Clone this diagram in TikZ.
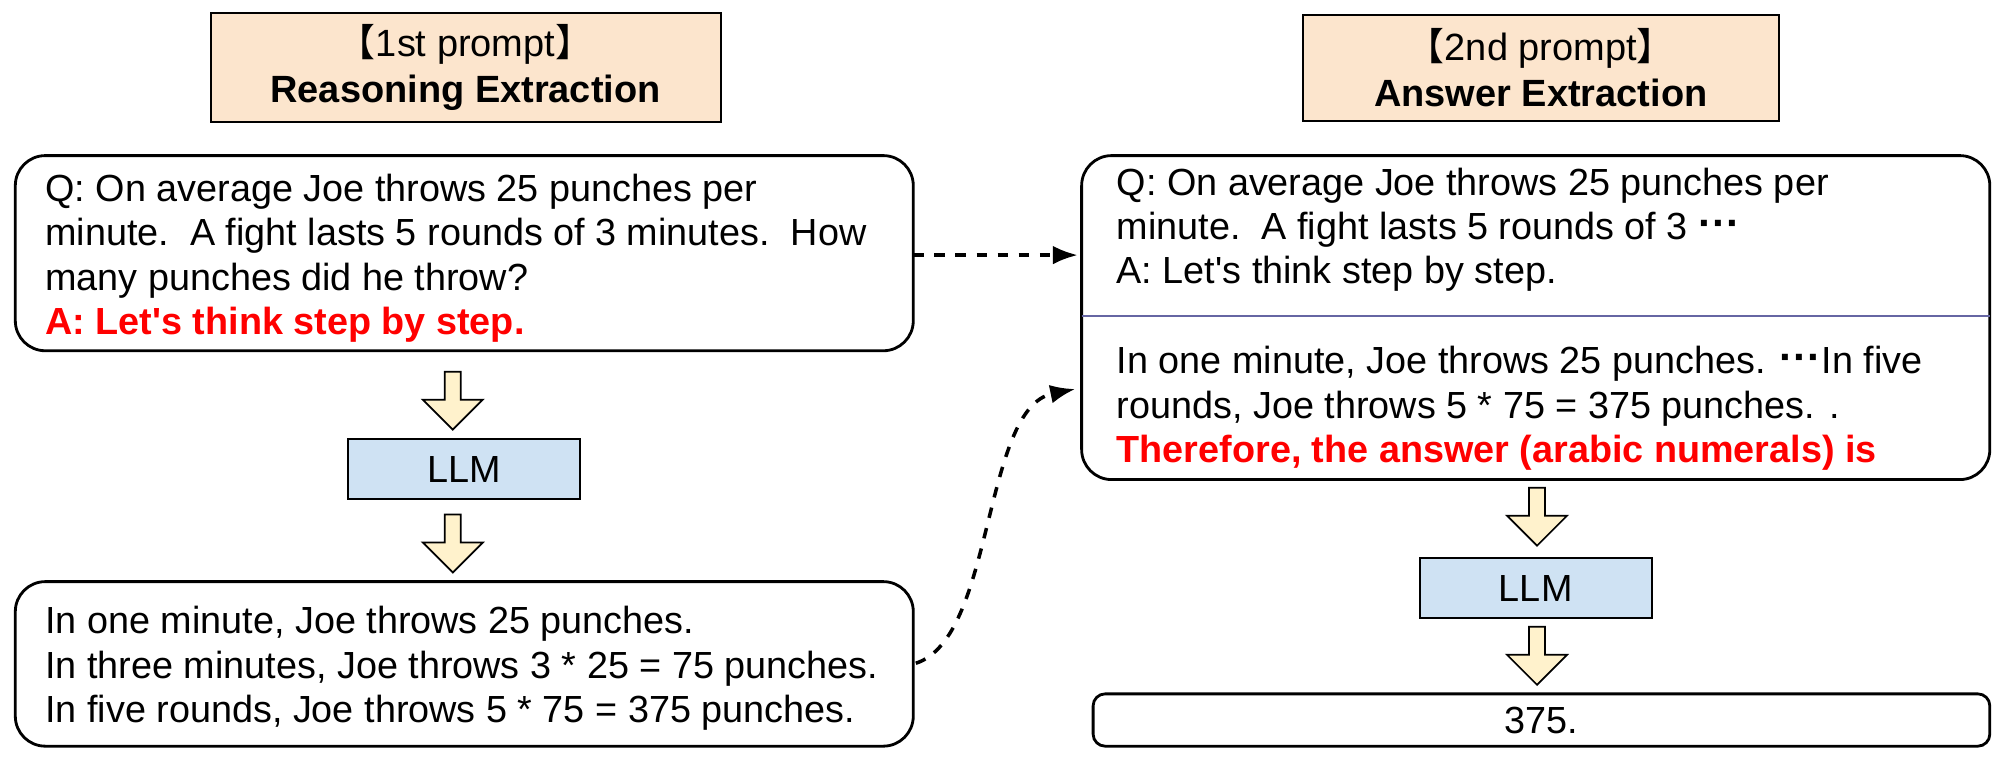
\documentclass[tikz,border=0pt]{standalone}
\usepackage{fontspec}
\setmainfont{Liberation Sans}
\newfontfamily\cjk{Noto Sans CJK JP}
\usetikzlibrary{shapes.arrows,arrows.meta}
\definecolor{llmblue}{HTML}{CFE2F3}
\definecolor{hdrorange}{HTML}{FCE5CD}
\definecolor{arryel}{HTML}{FFF2CC}
\newcommand{\mydots}{\raisebox{0.1ex}{\textbf{\large ···}}}
\begin{document}
\begin{tikzpicture}[x=0.012755cm,y=-0.012755cm,
 txt/.style={anchor=north west,inner sep=0,align=left,font=\fontsize{10.75}{12.6}\selectfont},
 rbox/.style={draw,line width=0.8pt,rounded corners=0.3cm},
 hdr/.style={draw,fill=hdrorange,line width=0.6pt,align=center,font=\fontsize{10.8}{13}\selectfont},
 llm/.style={draw,fill=llmblue,line width=0.6pt,minimum width=2.32cm,minimum height=0.6cm,font=\fontsize{10.75}{12}\selectfont},
 darr/.style={single arrow,draw,fill=arryel,shape border rotate=270,minimum height=0.58cm,minimum width=0.6cm,single arrow head extend=0.16cm,inner sep=1.4pt,line width=0.5pt},
 conn/.style={dashed,line width=1pt,-{Latex[length=2.5mm]}}]
\useasboundingbox (0,0) rectangle (1568,594);
\node[hdr,minimum width=5.1cm,minimum height=1.06cm] (h1) at (365,53) {{\cjk 【}1st prompt{\cjk 】}\\\textbf{Reasoning Extraction}};
\node[hdr,minimum width=4.76cm,minimum height=1.06cm] (h2) at (1208,53) {{\cjk 【}2nd prompt{\cjk 】}\\\textbf{Answer Extraction}};
\draw[rbox] (12,122) rectangle (716,275);
\node[minimum width=8.98cm,minimum height=1.95cm] (q1) at (364,198.5) {};
\node[txt] (t1) at (35,136) {Q: On average Joe throws 25 punches per\\minute.\ \ A fight lasts 5 rounds of 3 minutes.\ \ How\\many punches did he throw?\\\textcolor{red}{\textbf{A: Let\textquotesingle s think step by step.}}};
\node[darr] (a1) at (355,311) {};
\node[llm] (l1) at (364,368) {LLM};
\node[darr] (a2) at (355,423) {};
\draw[rbox] (12,456) rectangle (716,585);
\node[minimum width=8.98cm,minimum height=1.65cm] (b1) at (364,520.5) {};
\node[txt] (t2) at (35,475) {In one minute, Joe throws 25 punches.\\In three minutes, Joe throws 3 * 25 = 75 punches.\\In five rounds, Joe throws 5 * 75 = 375 punches.};
\draw[rbox] (848,122) rectangle (1560,376);
\node[minimum width=9.08cm,minimum height=3.24cm] (rb) at (1204,249) {};
\draw[line width=0.6pt,black!60!blue!60] (848,248) -- (1560,248);
\node[txt] (t3) at (875,131) {Q: On average Joe throws 25 punches per\\minute.\ \ A fight lasts 5 rounds of 3 \mydots\\A: Let\textquotesingle s think step by step.};
\node[txt] (t4) at (875,271) {In one minute, Joe throws 25 punches. \mydots In five\\rounds, Joe throws 5 * 75 = 375 punches. .\\\textcolor{red}{\textbf{Therefore, the answer (arabic numerals) is}}};
\node[darr] (a3) at (1205,402) {};
\node[llm] (l2) at (1204,461) {LLM};
\node[darr] (a4) at (1205,511) {};
\draw[line width=0.8pt,rounded corners=0.12cm] (857,544) rectangle (1560,585);
\node[font=\fontsize{10.75}{12}\selectfont,minimum width=8.96cm,minimum height=0.52cm] (ans) at (1208,564.5) {375.};
\coordinate (e1) at (845,200);
\coordinate (s1) at (716,200);
\coordinate (s2) at (718,520);
\coordinate (e2) at (843,305);
\draw[conn] (s1) -- (e1);
\draw[conn] (s2) .. controls (780,500) and (770,320) .. (e2);
\end{tikzpicture}
\end{document}
